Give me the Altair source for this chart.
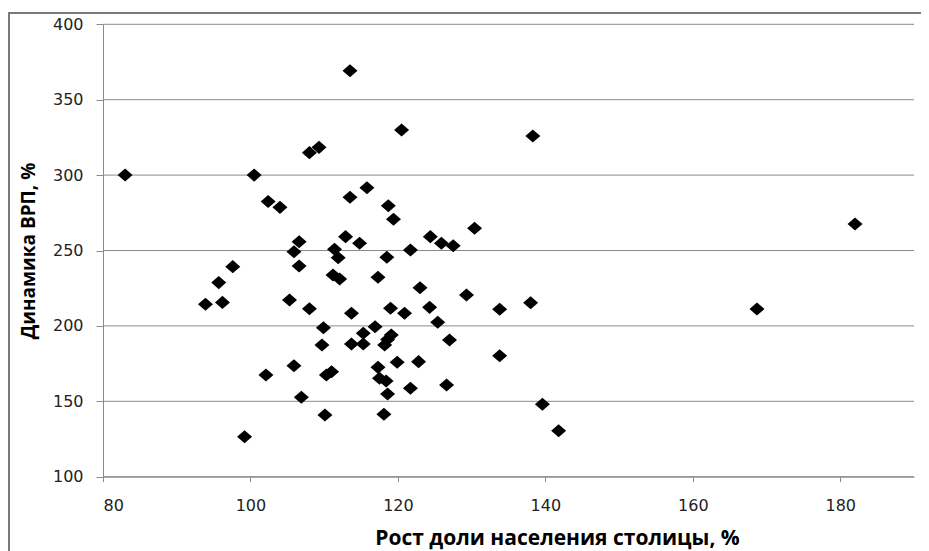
import altair as alt
import pandas as pd

# Рост доли населения столицы, %
x_vals = [83.0, 93.9, 95.7, 96.2, 97.6, 99.2, 100.5, 102.1, 102.4, 104.0,
          105.3, 105.9, 105.9, 106.6, 106.6, 106.9, 108.0, 108.0, 109.3, 109.7,
          109.9, 110.1, 110.3, 111.0, 111.2, 111.4, 111.9, 112.1, 112.9, 113.5,
          113.5, 113.7, 113.7, 114.8, 115.3, 115.3, 115.8, 116.9, 117.3, 117.3,
          117.5, 118.1, 118.2, 118.4, 118.5, 118.6, 118.6, 118.7, 119.0, 119.1,
          119.4, 119.9, 120.5, 120.9, 121.7, 121.7, 122.8, 123.0, 124.3, 124.4,
          125.4, 125.9, 126.6, 127.0, 127.5, 129.3, 130.4, 133.8, 133.8, 138.0,
          138.3, 139.6, 141.8, 168.7, 182.0]
# Динамика ВРП, %
y_vals = [300.1, 214.3, 228.7, 215.6, 239.3, 126.5, 300.0, 167.4, 282.5, 278.6,
          217.2, 173.6, 249.2, 255.8, 239.7, 152.7, 314.9, 211.4, 318.4, 187.3,
          198.8, 140.9, 167.4, 169.6, 233.8, 250.8, 245.2, 231.1, 259.2, 369.2,
          285.3, 208.4, 188.0, 254.8, 195.1, 188.0, 291.6, 199.5, 232.2, 172.5,
          165.3, 141.4, 187.3, 163.5, 245.5, 154.8, 191.0, 279.7, 211.7, 194.0,
          270.7, 175.9, 329.9, 208.4, 158.6, 250.3, 176.3, 225.3, 212.3, 259.2,
          202.4, 254.8, 160.8, 190.6, 253.2, 220.5, 264.7, 211.0, 180.2, 215.4,
          325.9, 148.0, 130.5, 211.2, 267.6]

x_ticks = [80, 100, 120, 140, 160, 180]
y_ticks = [100, 150, 200, 250, 300, 350, 400]

x_title = "Рост доли населения столицы, %"
y_title = "Динамика ВРП, %"

df = pd.DataFrame({"x": x_vals, "y": y_vals})
grid_df = pd.DataFrame({"y": y_ticks})
frame_df = pd.DataFrame({"a": [0]})

GRAY = "#8a8a8a"
FRAME = "#7a7a7a"
DIAMOND = "M-1,0L0,-0.87L1,0L0,0.87Z"

W, H = 913, 543
PL, PR, PT, PB = 95, 906, 16.3, 468.7   # plot rectangle inside the whole view

x_scale = alt.Scale(domain=[80, 190], nice=False, zero=False, range=[PL, PR])
y_scale = alt.Scale(domain=[100, 400], nice=False, zero=False, range=[PB, PT])

x_axis = alt.Axis(values=x_ticks, grid=False, title=x_title,
                  offset=PB - H,
                  tickSize=5, labelPadding=16,
                  titleX=549, titleY=68, titleAlign="center",
                  titleBaseline="alphabetic", titleFontSize=21)
y_axis = alt.Axis(values=y_ticks, grid=False, title=y_title,
                  offset=-PL,
                  tickSize=7, labelPadding=13, titlePadding=14,
                  titleFontSize=19)

grid = alt.Chart(grid_df).mark_rule(color=GRAY, strokeWidth=1).encode(
    y=alt.Y("y:Q", scale=y_scale, axis=y_axis),
    x=alt.value(PL), x2=alt.value(PR),
)

points = alt.Chart(df).mark_point(
    shape=DIAMOND, filled=True, color="black", opacity=1, size=225
).encode(
    x=alt.X("x:Q", scale=x_scale, axis=x_axis),
    y=alt.Y("y:Q", scale=y_scale, axis=y_axis),
)

# outer chart frame (cropped at right and bottom, as in the source image)
frame_left = alt.Chart(frame_df).mark_rule(color=FRAME, strokeWidth=2).encode(
    x=alt.value(1), y=alt.value(5), y2=alt.value(H)
)
frame_top = alt.Chart(frame_df).mark_rule(color=FRAME, strokeWidth=2).encode(
    x=alt.value(0), x2=alt.value(W), y=alt.value(5)
)

chart = alt.layer(grid, points, frame_left, frame_top).properties(
    width=W, height=H,
    autosize=alt.AutoSizeParams(type="none"),
    padding={"left": 0, "top": 0, "right": 0, "bottom": 0},
).configure_view(stroke=None).configure_axis(
    domainColor=GRAY, tickColor=GRAY,
    domainWidth=1, tickWidth=1,
    labelFont="DejaVu Sans", labelFontSize=16, labelColor="#222222",
    titleFont="Open Sans", titleFontWeight="bold", titleColor="#000000",
)

chart.save("out.html", embed_options={"renderer": "svg", "actions": False})
